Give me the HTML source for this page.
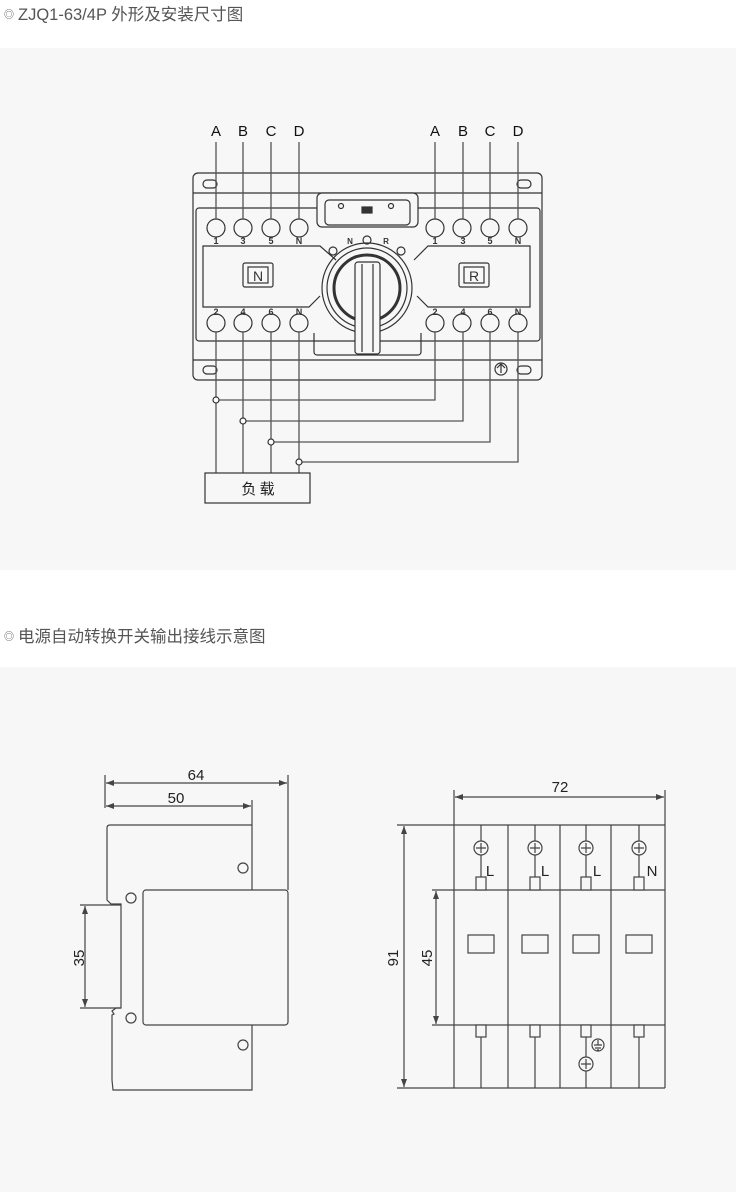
<!DOCTYPE html>
<html><head><meta charset="utf-8"><style>
body{margin:0;width:736px;height:1192px;background:#fff;position:relative;overflow:hidden;font-family:"Liberation Sans","Noto Sans CJK SC",sans-serif}
.h{position:absolute;left:4px;font-size:16.5px;color:#555;line-height:20px}
.h small{font-size:10px;vertical-align:2px;margin-right:4px}
.p{position:absolute;left:0;width:736px;background:#f7f7f7}
svg{position:absolute;left:0;top:0}
</style></head><body>
<div class="h" style="top:5px"><small>◎</small>ZJQ1-63/4P 外形及安装尺寸图</div>
<div class="p" style="top:48px;height:522px"></div>
<div class="h" style="top:627px"><small>◎</small>电源自动转换开关输出接线示意图</div>
<div class="p" style="top:667px;height:525px"></div>
<svg width="736" height="1192" viewBox="0 0 736 1192" fill="none" stroke="#333" stroke-width="1.2">
<g font-family="Liberation Sans,sans-serif" font-size="15" fill="#111" stroke="none">
<text x="216" y="136" text-anchor="middle">A</text><text x="243" y="136" text-anchor="middle">B</text><text x="271" y="136" text-anchor="middle">C</text><text x="299" y="136" text-anchor="middle">D</text>
<text x="435" y="136" text-anchor="middle">A</text><text x="463" y="136" text-anchor="middle">B</text><text x="490" y="136" text-anchor="middle">C</text><text x="518" y="136" text-anchor="middle">D</text>
</g>
<rect x="193" y="173" width="349" height="207" rx="5"/>
<line x1="193" y1="193" x2="542" y2="193"/><line x1="193" y1="360" x2="542" y2="360"/>
<rect x="203" y="180" width="14" height="8" rx="4"/><rect x="517" y="180" width="14" height="8" rx="4"/>
<rect x="203" y="366" width="14" height="8" rx="4"/><rect x="517" y="366" width="14" height="8" rx="4"/>
<rect x="196" y="208" width="344" height="133" rx="3"/>
<rect x="317" y="193" width="101" height="34" rx="5" fill="#f7f7f7"/>
<rect x="325" y="200" width="85" height="25" rx="4"/>
<rect x="362" y="207" width="10" height="6" fill="#333"/>
<circle cx="341" cy="206" r="2.5"/><circle cx="391" cy="206" r="2.5"/>
<path d="M336 260L320 246H203V307H309L320 296"/>
<path d="M414 260L428 246H530V307H428L417 296"/>
<rect x="243" y="263" width="30" height="24" rx="2"/><rect x="248" y="267" width="20" height="16"/>
<rect x="459" y="263" width="30" height="24" rx="2"/><rect x="464" y="267" width="20" height="16"/>
<g font-family="Liberation Sans,sans-serif" font-size="14" fill="#333" stroke="none" text-anchor="middle">
<text x="258" y="281">N</text><text x="474" y="281">R</text></g>
<path d="M314 333V352a3 3 0 0 0 3 3H418a3 3 0 0 0 3-3V333"/>
<circle cx="367" cy="288" r="45"/><circle cx="367" cy="288" r="40"/>
<circle cx="367" cy="288" r="33" stroke-width="3"/>
<rect x="355" y="262" width="25" height="92" rx="3" fill="#f7f7f7"/>
<line x1="362" y1="264" x2="362" y2="352"/><line x1="373" y1="264" x2="373" y2="352"/>
<circle cx="333" cy="251" r="4"/><circle cx="367" cy="240" r="4"/><circle cx="401" cy="251" r="4"/>
<g font-family="Liberation Sans,sans-serif" font-size="8" font-weight="bold" fill="#333" stroke="none" text-anchor="middle">
<text x="350" y="244">N</text><text x="386" y="244">R</text></g>
<circle cx="501" cy="369" r="6"/><path d="M501 364v9M497 368l4-4 4 4"/>
<g id="tt">
<circle cx="216" cy="228" r="9"/><circle cx="243" cy="228" r="9"/><circle cx="271" cy="228" r="9"/><circle cx="299" cy="228" r="9"/>
<circle cx="216" cy="323" r="9"/><circle cx="243" cy="323" r="9"/><circle cx="271" cy="323" r="9"/><circle cx="299" cy="323" r="9"/>
</g>
<use href="#tt" transform="translate(219,0)"/>
<g font-family="Liberation Sans,sans-serif" font-size="9" font-weight="bold" fill="#333" stroke="none" text-anchor="middle">
<text x="216" y="244">1</text><text x="243" y="244">3</text><text x="271" y="244">5</text><text x="299" y="244">N</text>
<text x="435" y="244">1</text><text x="463" y="244">3</text><text x="490" y="244">5</text><text x="518" y="244">N</text>
<text x="216" y="315">2</text><text x="243" y="315">4</text><text x="271" y="315">6</text><text x="299" y="315">N</text>
<text x="435" y="315">2</text><text x="463" y="315">4</text><text x="490" y="315">6</text><text x="518" y="315">N</text>
</g>
<g stroke="#555" stroke-width="1.3">
<path d="M216 142V219M243 142V219M271 142V219M299 142V219M435 142V219M463 142V219M490 142V219M518 142V219"/>
<path d="M216 332V473M243 332V473M271 332V473M299 332V473"/>
<path d="M435 332V400H216M463 332V421H243M490 332V442H271M518 332V462H299"/>
</g>
<g fill="#fff"><circle cx="216" cy="400" r="3"/><circle cx="243" cy="421" r="3"/><circle cx="271" cy="442" r="3"/><circle cx="299" cy="462" r="3"/></g>
<rect x="205" y="473" width="105" height="30"/>
<text x="258" y="494" font-family="Noto Sans CJK SC,sans-serif" font-size="15" fill="#222" stroke="none" text-anchor="middle">负 载</text>

<g stroke="#444">
<path d="M105 775V808M288 775V890M252 800V890"/>
<path d="M106 783H287M106 806H251"/>
<path d="M110 825H252M107 828V900l4 4h10V1008h-5l-4 3 2 3-2 1 V1080 l1 10H252V1025"/>
<path d="M107 828q0-3 3-3"/>
<rect x="143" y="890" width="145" height="135" rx="3"/>
<circle cx="243" cy="868" r="5"/><circle cx="131" cy="898" r="5"/><circle cx="131" cy="1018" r="5"/><circle cx="243" cy="1045" r="5"/>
<path d="M80 905H121M80 1008H121M85 906V1007"/>
</g>
<g fill="#444" stroke="none">
<path d="M106 783l8-3v6zM287 783l-8-3v6zM106 806l8-3v6zM251 806l-8-3v6z"/>
<path d="M85 906l-3 8h6zM85 1007l-3-8h6z"/>
<path d="M455 797l8-3v6zM664 797l-8-3v6z"/>
<path d="M404 826l-3 8h6zM404 1087l-3-8h6zM436 891l-3 8h6zM436 1024l-3-8h6z"/>
</g>
<g font-family="Liberation Sans,sans-serif" font-size="15" fill="#222" stroke="none" text-anchor="middle">
<text x="196" y="780">64</text><text x="176" y="803">50</text>
<text x="80" y="958" transform="rotate(-90 80 958)" dominant-baseline="middle">35</text>
<text x="560" y="792">72</text>
<text x="394" y="958" transform="rotate(-90 394 958)" dominant-baseline="middle">91</text>
<text x="428" y="958" transform="rotate(-90 428 958)" dominant-baseline="middle">45</text>
<text x="490" y="876">L</text><text x="545" y="876">L</text><text x="597" y="876">L</text><text x="652" y="876">N</text>
</g>
<g stroke="#444">
<path d="M454 790V1088M665 790V1088M455 797H664"/>
<path d="M397 825H665M432 890H665M432 1025H665M397 1088H665M404 826V1087M436 891V1024"/>
<path d="M508 825V1088M560 825V1088M611 825V1088"/>
<path d="M481 825V877M535 825V877M586 825V877M639 825V877M481 1037V1088M535 1037V1088M586 1037V1088M639 1037V1088"/>
<g fill="#f7f7f7">
<circle cx="481" cy="848" r="7"/><circle cx="535" cy="848" r="7"/><circle cx="586" cy="848" r="7"/><circle cx="639" cy="848" r="7"/>
<circle cx="586" cy="1064" r="7"/>
<rect x="476" y="877" width="10" height="13"/><rect x="530" y="877" width="10" height="13"/><rect x="581" y="877" width="10" height="13"/><rect x="634" y="877" width="10" height="13"/>
<rect x="476" y="1025" width="10" height="12"/><rect x="530" y="1025" width="10" height="12"/><rect x="581" y="1025" width="10" height="12"/><rect x="634" y="1025" width="10" height="12"/>
</g>
<path d="M476 848h10M481 843v10M530 848h10M535 843v10M581 848h10M586 843v10M634 848h10M639 843v10M581 1064h10M586 1059v10"/>
<rect x="468" y="935" width="26" height="18"/><rect x="522" y="935" width="26" height="18"/><rect x="573" y="935" width="26" height="18"/><rect x="626" y="935" width="26" height="18"/>
<circle cx="598" cy="1045" r="6"/><path d="M594 1045h8M595 1048h6M597 1050h2M598 1040v5"/>
</g>
</svg>
</body></html>
